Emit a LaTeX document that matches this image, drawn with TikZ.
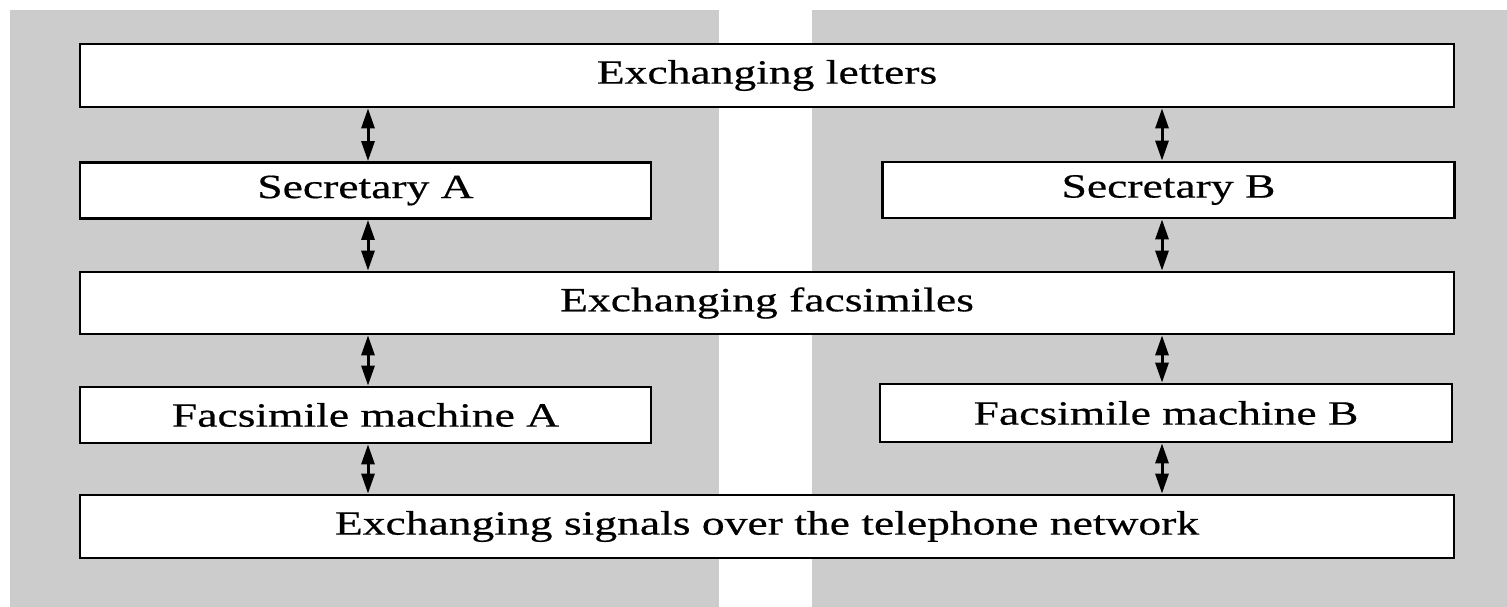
\documentclass[tikz,border=0pt]{standalone}
\usepackage{fontspec}
\setmainfont{Liberation Serif}[FakeStretch=1.34,FakeBold=0.5]
\usetikzlibrary{arrows.meta}
\definecolor{panelgray}{HTML}{CCCCCC}
\begin{document}
\begin{tikzpicture}[x=1pt,y=-1pt,
  panel/.style={fill=panelgray,draw=none},
  layerbox/.style={draw=black,fill=white,line width=2.8pt,rectangle,
    inner sep=0pt,font=\fontsize{34}{40}\selectfont},
  tip/.tip={Triangle[length=20pt,width=13pt]},
  link/.style={line width=3pt,tip-tip}]
  \useasboundingbox (0,0) rectangle (1507,607);
  % two shaded columns
  \fill[panel] (10,10) rectangle (719,607);
  \fill[panel] (812,10) rectangle (1507,607);
  % layers
  \node[layerbox,minimum width=1374pt,minimum height=63pt] (letters) at (767,75.5) {Exchanging letters};
  \node[layerbox,minimum width=571pt,minimum height=56pt] (secA) at (365.5,190.5) {Secretary A};
  \node[layerbox,minimum width=572pt,minimum height=56pt] (secB) at (1168.5,190) {Secretary B};
  \node[layerbox,minimum width=1374pt,minimum height=62pt] (fax) at (767,303) {Exchanging facsimiles};
  \node[layerbox,minimum width=571pt,minimum height=56pt] (machA) at (365.5,415) {Facsimile machine A};
  \node[layerbox,minimum width=572pt,minimum height=58pt] (machB) at (1166,413) {Facsimile machine B};
  \node[layerbox,minimum width=1374pt,minimum height=63pt] (signals) at (767,526.5) {Exchanging signals over the telephone network};
  % arrow columns
  \coordinate (colA) at (368,0);
  \coordinate (colB) at (1162,0);
  \draw[link] (letters.south -| colA) -- (secA.north -| colA);
  \draw[link] (secA.south -| colA) -- (fax.north -| colA);
  \draw[link] (fax.south -| colA) -- (machA.north -| colA);
  \draw[link] (machA.south -| colA) -- (signals.north -| colA);
  \draw[link] (letters.south -| colB) -- (secB.north -| colB);
  \draw[link] (secB.south -| colB) -- (fax.north -| colB);
  \draw[link] (fax.south -| colB) -- (machB.north -| colB);
  \draw[link] (machB.south -| colB) -- (signals.north -| colB);
\end{tikzpicture}
\end{document}
